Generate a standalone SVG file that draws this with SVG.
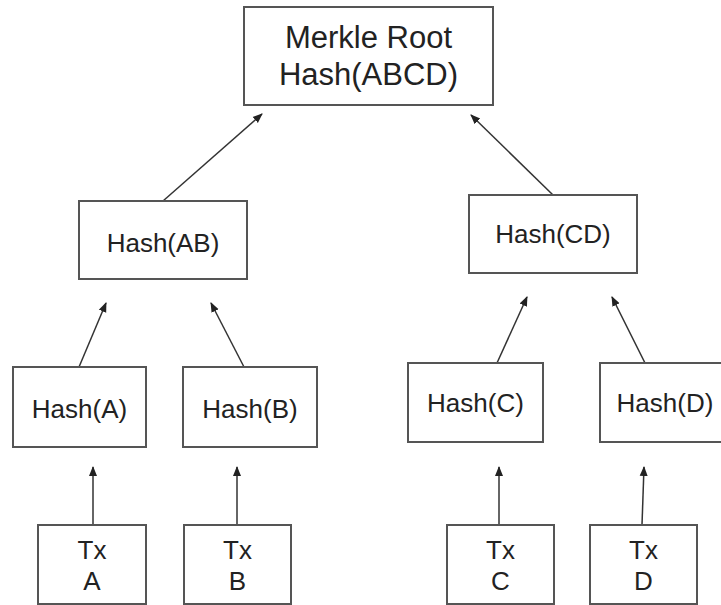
<svg xmlns="http://www.w3.org/2000/svg" width="721" height="605" viewBox="0 0 721 605">
<defs>
<marker id="ah" viewBox="0 0 10 10" refX="9" refY="5" markerWidth="10" markerHeight="10" markerUnits="userSpaceOnUse" orient="auto">
<path d="M0,1 L10,5 L0,9 Z" fill="#222"/>
</marker>
<style>
.box{fill:#fff;stroke:#555;stroke-width:2}
.t{font-family:"Liberation Sans",Arial,sans-serif;font-size:26px;fill:#222;text-anchor:middle}
.tr{font-family:"Liberation Sans",Arial,sans-serif;font-size:31px;fill:#222;text-anchor:middle}
.c{stroke:#333;stroke-width:1.5;fill:none;marker-end:url(#ah)}
</style>
</defs>
<rect width="721" height="605" fill="#fff"/>
<g id="connectors">
<line class="c" x1="163" y1="201" x2="262" y2="114"/>
<line class="c" x1="553" y1="195" x2="471" y2="115"/>
<line class="c" x1="79" y1="367" x2="106" y2="303"/>
<line class="c" x1="244" y1="367" x2="211" y2="303"/>
<line class="c" x1="497" y1="363" x2="527" y2="297"/>
<line class="c" x1="645" y1="363" x2="612" y2="297"/>
<line class="c" x1="93" y1="525" x2="93" y2="467"/>
<line class="c" x1="237" y1="525" x2="237" y2="467"/>
<line class="c" x1="499" y1="525" x2="499" y2="467"/>
<line class="c" x1="642" y1="525" x2="644" y2="467"/>
</g>
<g id="root">
<rect class="box" x="244" y="7" width="249" height="98"/>
<text class="tr" x="368.5" y="48">Merkle Root</text>
<text class="tr" x="368.5" y="85">Hash(ABCD)</text>
</g>
<g id="hashAB">
<rect class="box" x="79" y="201" width="168" height="78"/>
<text class="t" x="163" y="252">Hash(AB)</text>
</g>
<g id="hashCD">
<rect class="box" x="469" y="195" width="168" height="78"/>
<text class="t" x="553" y="243">Hash(CD)</text>
</g>
<g id="hashA">
<rect class="box" x="13" y="367" width="133" height="80"/>
<text class="t" x="79.5" y="418">Hash(A)</text>
</g>
<g id="hashB">
<rect class="box" x="183" y="367" width="134" height="80"/>
<text class="t" x="250" y="418">Hash(B)</text>
</g>
<g id="hashC">
<rect class="box" x="408" y="363" width="135" height="79"/>
<text class="t" x="475.5" y="412">Hash(C)</text>
</g>
<g id="hashD">
<rect class="box" x="600" y="363" width="124" height="79"/>
<text class="t" x="665" y="412">Hash(D)</text>
</g>
<g id="txA">
<rect class="box" x="38" y="525" width="108" height="79"/>
<text class="t" x="92" y="559">Tx</text>
<text class="t" x="92" y="590">A</text>
</g>
<g id="txB">
<rect class="box" x="184" y="525" width="107" height="79"/>
<text class="t" x="237.5" y="559">Tx</text>
<text class="t" x="237.5" y="590">B</text>
</g>
<g id="txC">
<rect class="box" x="447" y="525" width="107" height="79"/>
<text class="t" x="500.5" y="559">Tx</text>
<text class="t" x="500.5" y="590">C</text>
</g>
<g id="txD">
<rect class="box" x="590" y="525" width="107" height="79"/>
<text class="t" x="643.5" y="559">Tx</text>
<text class="t" x="643.5" y="590">D</text>
</g>
</svg>
